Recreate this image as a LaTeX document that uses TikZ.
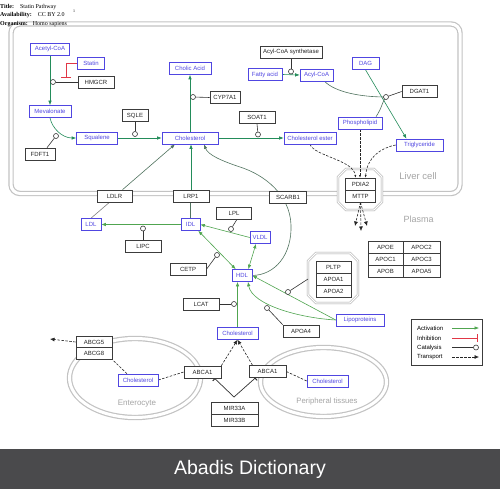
\documentclass[tikz,border=0pt]{standalone}
\usepackage{fontspec}
\setmainfont{Liberation Serif}
\newfontfamily\labelfont{Liberation Sans}
\usetikzlibrary{arrows.meta,backgrounds}

\definecolor{metblue}{RGB}{80,70,225}
\definecolor{genegray}{RGB}{60,60,60}
\definecolor{actgreen}{RGB}{35,140,90}
\definecolor{litegreen}{RGB}{80,165,80}
\definecolor{linkgray}{RGB}{80,115,95}
\definecolor{inhred}{RGB}{225,55,70}
\definecolor{wallgray}{RGB}{195,195,195}
\definecolor{tagray}{RGB}{165,165,165}
\definecolor{bannergray}{RGB}{74,74,76}

\tikzset{
  lbl/.style={font=\labelfont\fontsize{6}{7}\selectfont},
  met/.style={lbl, draw=metblue, text=metblue, fill=white, inner sep=0pt, minimum height=12pt, line width=0.6pt},
  gene/.style={lbl, draw=genegray, text=black!85, fill=white, inner sep=0pt, minimum height=12pt, line width=0.6pt},
  catdot/.style={circle, draw=black!80, fill=white, inner sep=0pt, minimum size=5pt, line width=0.6pt},
  act/.style={draw=actgreen, line width=0.6pt, -{Latex[length=4.5pt,width=3.5pt]}},
  actlite/.style={act, draw=litegreen},
  actboth/.style={actlite, {Latex[length=4.5pt,width=3.5pt]}-{Latex[length=4.5pt,width=3.5pt]}},
  link/.style={draw=linkgray, line width=0.6pt},
  catline/.style={draw=black!80, line width=0.6pt},
  inh/.style={draw=inhred, line width=0.7pt, -{Bar[width=10pt,line width=1.2pt]}},
  mirinh/.style={draw=black!80, line width=0.7pt, -{Bar[width=6pt,line width=1pt]}},
  transline/.style={draw=black!85, line width=0.6pt, dash pattern=on 2.5pt off 1.5pt},
  trans/.style={transline, -{Latex[length=4.5pt,width=4pt]}},
  transsm/.style={transline, -{Latex[length=2.5pt,width=2pt]}},
  wall/.style={draw=wallgray, double=white, double distance=3pt, line width=1.2pt},
  octo/.style={draw=gray!70, double=white, double distance=1.2pt, line width=0.6pt, fill=white},
  tag/.style={font=\labelfont\fontsize{9}{10}\selectfont, text=tagray},
  hdr/.style={anchor=west, inner sep=0pt, font=\fontsize{6}{7}\selectfont},
}

\begin{document}
\begin{tikzpicture}[x=1pt, y=-1pt]
    \useasboundingbox (0,0) rectangle (500,489);

    % header
    \node[hdr] (hdtitle) at (0,7) {\textbf{Title:}\hspace{6pt}Statin Pathway};
    \node[hdr] (hdavail) at (0,15.5) {\textbf{Availability:}\hspace{6pt}CC BY 2.0};
    \node[hdr] (hdorg) at (0,24) {\textbf{Organism:}\hspace{5pt}Homo sapiens};
    \node[inner sep=0pt, font=\fontsize{4}{4}\selectfont] (hdmark) at (74,11) {1};

    % liver cell: mevalonate branch
    \node[met, minimum width=39pt] (acoa) at (50,49) {Acetyl-CoA};
    \node[met, minimum width=27pt] (statin) at (91,63) {Statin};
    \node[gene, minimum width=36pt] (hmgcr) at (96,82) {HMGCR};
    \node[met, minimum width=42pt] (meval) at (50,111.5) {Mevalonate};
    \node[met, minimum width=41pt] (squal) at (97,138) {Squalene};
    \node[gene, minimum width=30pt] (fdft1) at (40,154) {FDFT1};
    \node[gene, minimum width=26pt] (sqle) at (135,115.5) {SQLE};
    \node[met, minimum width=56pt] (chol) at (190,138) {Cholesterol};
    \node[met, minimum width=42pt] (cholic) at (190,68.5) {Cholic Acid};
    \node[gene, minimum width=30pt] (cyp) at (225,97.5) {CYP7A1};
    \node[gene, minimum width=36pt] (soat) at (257,117.5) {SOAT1};
    \node[met, minimum width=52pt] (cholest) at (310,138) {Cholesterol ester};

    % liver cell: lipid branch
    \node[gene, minimum width=62pt] (acsyn) at (291,52) {Acyl-CoA synthetase};
    \node[met, minimum width=34pt] (fatty) at (265,74.5) {Fatty acid};
    \node[met, minimum width=33pt] (acyl) at (316.5,75) {Acyl-CoA};
    \node[met, minimum width=27pt] (dag) at (365.5,63.5) {DAG};
    \node[gene, minimum width=35pt] (dgat) at (419.5,91.5) {DGAT1};
    \node[met, minimum width=44pt] (phos) at (360,123) {Phospholipid};
    \node[met, minimum width=47pt] (trig) at (419.5,145) {Triglyceride};
    \node[gene, minimum width=30pt] (pdia) at (360.5,184) {PDIA2};
    \node[gene, minimum width=30pt] (mttp) at (360.5,196) {MTTP};

    % membrane
    \node[gene, minimum width=35pt] (ldlr) at (114.5,196) {LDLR};
    \node[gene, minimum width=36pt] (lrp) at (191,196) {LRP1};
    \node[gene, minimum width=37pt] (scarb) at (288,197) {SCARB1};

    % plasma
    \node[met, minimum width=20pt] (ldl) at (91,224.5) {LDL};
    \node[met, minimum width=19pt] (idl) at (190.5,224.5) {IDL};
    \node[met, minimum width=20pt] (vldl) at (260,237.5) {VLDL};
    \node[met, minimum width=20pt] (hdl) at (242,275.5) {HDL};
    \node[gene, minimum width=36pt] (lipc) at (143,246) {LIPC};
    \node[gene, minimum width=35pt] (lpl) at (234,213) {LPL};
    \node[gene, minimum width=36pt] (cetp) at (188,269.5) {CETP};
    \node[gene, minimum width=36pt] (lcat) at (201,304) {LCAT};
    \node[gene, minimum width=36pt] (apoa4) at (301,331) {APOA4};
    \node[met, minimum width=48pt] (lipo) at (360,320) {Lipoproteins};
    \node[met, minimum width=41pt] (cholp) at (237.5,333.5) {Cholesterol};

    \node[gene, minimum width=35pt] (pltp) at (333.5,267) {PLTP};
    \node[gene, minimum width=35pt] (apoa1) at (333.5,279) {APOA1};
    \node[gene, minimum width=35pt] (apoa2) at (333.5,291) {APOA2};

    \node[gene, minimum width=35pt] (apoe) at (385.5,247) {APOE};
    \node[gene, minimum width=37pt] (apoc2) at (421.5,247) {APOC2};
    \node[gene, minimum width=35pt] (apoc1) at (385.5,259) {APOC1};
    \node[gene, minimum width=37pt] (apoc3) at (421.5,259) {APOC3};
    \node[gene, minimum width=35pt] (apob) at (385.5,271) {APOB};
    \node[gene, minimum width=37pt] (apoa5) at (421.5,271) {APOA5};

    % enterocyte and peripheral tissues
    \node[gene, minimum width=36pt, minimum height=11.5pt] (abcg5) at (94,342) {ABCG5};
    \node[gene, minimum width=36pt, minimum height=11.5pt] (abcg8) at (94,353.5) {ABCG8};
    \node[met, minimum width=40pt] (chole) at (138,380) {Cholesterol};
    \node[gene, minimum width=37pt] (abcal) at (202.5,372) {ABCA1};
    \node[gene, minimum width=37pt] (abcar) at (267.5,371.5) {ABCA1};
    \node[met, minimum width=41pt] (cholt) at (327.5,381) {Cholesterol};
    \node[gene, minimum width=47pt] (mira) at (234.5,408) {MIR33A};
    \node[gene, minimum width=47pt] (mirb) at (234.5,420) {MIR33B};

    % compartment labels
    \node[tag, font=\labelfont\fontsize{9.5}{10}\selectfont] (lvtag) at (418,176) {Liver cell};
    \node[tag] (pltag) at (418.5,219) {Plasma};
    \node[tag, font=\labelfont\fontsize{8}{9}\selectfont] (entag) at (137,404) {Enterocyte};
    \node[tag, font=\labelfont\fontsize{7.7}{9}\selectfont] (petag) at (327,402) {Peripheral tissues};

    % catalysis dots
    \node[catdot] (c_hmgcr) at (53,82) {};
    \node[catdot] (c_fdft1) at (56,136) {};
    \node[catdot] (c_sqle) at (135,134) {};
    \node[catdot] (c_cyp) at (193,97) {};
    \node[catdot] (c_soat) at (258,134.5) {};
    \node[catdot] (c_acsyn) at (291,71.5) {};
    \node[catdot] (c_dgat) at (386,97) {};
    \node[catdot] (c_lipc) at (143,228.5) {};
    \node[catdot] (c_lpl) at (231,229) {};
    \node[catdot] (c_cetp) at (217,255) {};
    \node[catdot] (c_lcat) at (234,304) {};
    \node[catdot] (c_pltp) at (288,292) {};
    \node[catdot] (c_apoa4) at (267,308) {};

    \coordinate (statbend) at (66,63);
    \coordinate (statbar) at (66,78);
    \coordinate (dgjoin) at (386,97);
    \coordinate (out1) at (355,226);
    \coordinate (out2) at (361,231);
    \coordinate (out3) at (367,226);
    \coordinate (pltpleft) at (308,279);
    \coordinate (mirv) at (234,397);
    \coordinate (gutout) at (50,339);

    % legend
    \draw[genegray, line width=0.6pt, fill=white] (411,319) rectangle (482,365);
    \node[lbl, anchor=west, inner sep=0pt] (lgact) at (417,328) {Activation};
    \node[lbl, anchor=west, inner sep=0pt] (lginh) at (417,338) {Inhibition};
    \node[lbl, anchor=west, inner sep=0pt] (lgcat) at (417,347.5) {Catalysis};
    \node[lbl, anchor=west, inner sep=0pt] (lgtra) at (417,357) {Transport};
    \coordinate (lga1) at (452,328);  \coordinate (lga2) at (479,328);
    \coordinate (lgi1) at (452,338);  \coordinate (lgi2) at (478,338);
    \coordinate (lgc1) at (452,347.5);
    \node[catdot] (lgcdot) at (476,347.5) {};
    \coordinate (lgt1) at (452,357); \coordinate (lgt2) at (479,357);
    \draw[act, draw=litegreen] (lga1) -- (lga2);
    \draw[inh, -{Bar[width=8pt,line width=1pt]}] (lgi1) -- (lgi2);
    \draw[catline] (lgc1) -- (lgcdot);
    \draw[trans] (lgt1) -- (lgt2);

    % banner
    \fill[bannergray] (0,449) rectangle (500,489);
    \node[text=white, font=\labelfont\fontsize{19.5}{22}\selectfont] (brand) at (250,469) {Abadis Dictionary};

    \begin{scope}[on background layer]
    \fill[white] (0,0) rectangle (500,489);
    % compartments
    \draw[wall, rounded corners=9pt] (11,24) rectangle (460,193.5);
    \draw[wall] (135,378) ellipse [x radius=65.5pt, y radius=39.5pt];
    \draw[wall] (323.5,382) ellipse [x radius=63pt, y radius=34.5pt];
    \draw[octo] (338,177) -- (346,169) -- (374,169) -- (382,177) -- (382,202) -- (374,210) -- (346,210) -- (338,202) -- cycle;
    \draw[octo] (308,261) -- (316,253) -- (350,253) -- (358,261) -- (358,295) -- (350,303) -- (316,303) -- (308,295) -- cycle;

    % mevalonate pathway
    \draw[act] (acoa.south) -- (meval.north);
    \draw[catline] (hmgcr.west) -- (c_hmgcr);
    \draw[inh] (statin.west) -- (statbend) -- (statbar);
    \draw[act] (meval.south) .. controls (52,128) and (62,138) .. (squal.west);
    \draw[catline] ([xshift=7pt]fdft1.north) -- (c_fdft1);
    \draw[act] (squal.east) -- (chol.west);
    \draw[catline] (sqle.south) -- (c_sqle);
    \draw[act] (chol.north) -- (cholic.south);
    \draw[catline] (cyp.west) -- (c_cyp);
    \draw[act] (chol.east) -- (cholest.west);
    \draw[catline] (soat.south) -- (c_soat);

    % lipids
    \draw[act] (fatty.east) -- (acyl.west);
    \draw[catline] (acsyn.south) -- (c_acsyn);
    \draw[act] (dag.south) -- ([xshift=-13pt]trig.north);
    \draw[link] ([xshift=8pt]acyl.south) .. controls (335,92) and (360,97) .. (dgjoin);
    \draw[link] ([xshift=16pt]phos.north) .. controls (382,108) and (382,102) .. (dgjoin);
    \draw[catline] (dgat.west) -- (c_dgat);

    % export through PDIA2 / MTTP
    \draw[transsm] (cholest.south) .. controls (314,156) and (354,160) .. ([xshift=-5pt]pdia.north);
    \draw[transsm] (phos.south) -- (phos.south |- pdia.north);
    \draw[transsm] (trig.west) .. controls (380,148) and (367,158) .. ([xshift=5pt]pdia.north);
    \draw[trans] (mttp.south) -- (out1);
    \draw[trans] (mttp.south) -- (out2);
    \draw[trans] (mttp.south) -- (out3);

    % uptake and lipoproteins
    \draw[act, draw=linkgray] ([xshift=8pt]ldlr.north) -- ([xshift=-15pt]chol.south);
    \draw[act] (lrp.north) -- (lrp.north |- chol.south);
    \draw[link] (idl.north) -- (idl.north |- lrp.south);
    \draw[link, draw=gray] ([xshift=-5pt]ldlr.south) -- (ldl.north);
    \draw[actlite] (idl.west) -- (ldl.east);
    \draw[catline] (lipc.north) -- (c_lipc);
    \draw[actlite] (vldl.west) -- (idl.east);
    \draw[catline] ([xshift=3pt]lpl.south) -- (c_lpl);
    \draw[actboth] ([xshift=-2pt]idl.south east) -- ([xshift=4pt]hdl.north west);
    \draw[catline] (cetp.east) -- (c_cetp);
    \draw[actboth] ([xshift=-4pt]vldl.south) -- ([xshift=-4pt]hdl.north east);
    \draw[act, draw=linkgray] (hdl.east) .. controls (275,275) and (292,255) .. (291,225)
        .. controls (290,195) and (265,175) .. (240,167)
        .. controls (222,161) and (208,155) .. ([xshift=14pt]chol.south);
    \draw[actlite] (lipo.west) -- (hdl.east);
    \draw[actlite] (lipo.west) .. controls (300,318) and (252,305) .. ([xshift=6pt]hdl.south);
    \draw[catline] (pltpleft) -- (c_pltp);
    \draw[catline] (apoa4.north west) -- (c_apoa4);
    \draw[catline] (lcat.east) -- (c_lcat);
    \draw[actlite] (cholp.north) -- (cholp.north |- hdl.south);

    % cholesterol efflux
    \draw[trans] (abcal.north east) -- (cholp.south);
    \draw[trans] ([xshift=-15pt]abcar.north) -- (cholp.south);
    \draw[mirinh] (mirv) -- ([xshift=12pt]abcal.south);
    \draw[mirinh] (mirv) -- ([xshift=-12pt]abcar.south);
    \draw[transline] (chole.east) -- (abcal.west);
    \draw[transline] ([xshift=-11pt]chole.north) -- (abcg8.south east);
    \draw[trans] (abcg5.west) -- (gutout);
    \draw[transline] (abcar.east) -- (cholt.west);
    \end{scope}
\end{tikzpicture}
\end{document}
